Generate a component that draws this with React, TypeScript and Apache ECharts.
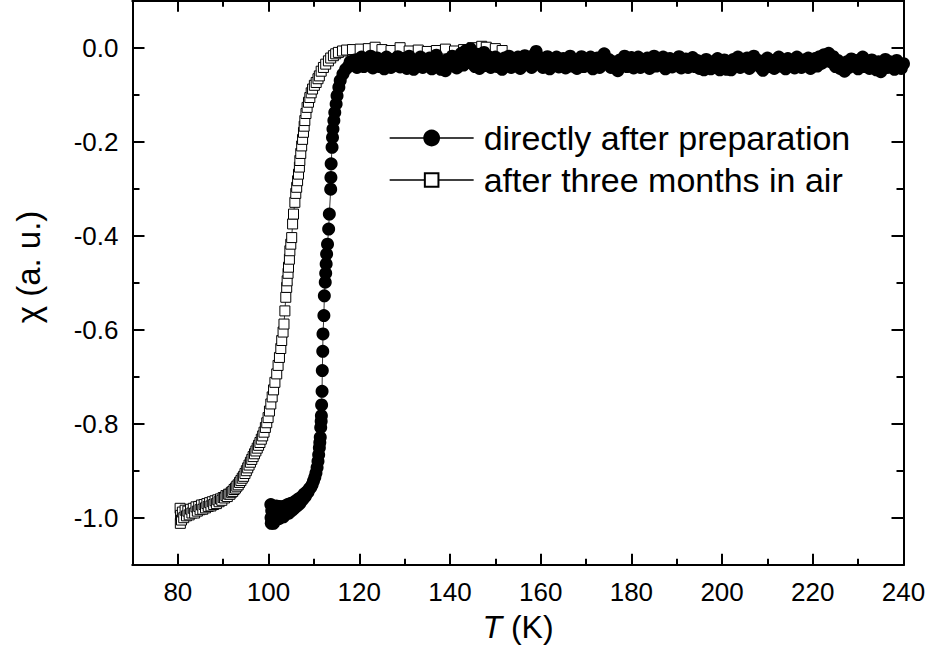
import React, { useEffect, useRef } from 'react';
import * as echarts from 'echarts';

const FONT = "'Liberation Sans', Arial, Helvetica, sans-serif";

// Tick values
const xTickLabels = [80, 100, 120, 140, 160, 180, 200, 220, 240];
const xMinorTicks = [70, 90, 110, 130, 150, 170, 190, 210, 230];
const yTickLabels = [-1.0, -0.8, -0.6, -0.4, -0.2, 0.0];
const yMinorTicks = [-0.9, -0.7, -0.5, -0.3, -0.1];

const seriesNames = ['directly after preparation', 'after three months in air'];

// [T (K), chi (a.u.)] — directly after preparation (filled circles)
const freshData: [number, number][] = [
  [100.5, -0.972], [100.55, -1.0], [100.6, -1.012], [100.7, -0.985], [100.8, -1.008], [100.9, -0.975],
  [101.0, -0.995], [101.1, -1.012], [101.3, -0.98], [101.5, -1.003], [101.7, -0.975], [101.9, -0.998],
  [102.1, -0.982], [102.3, -1.002], [102.5, -0.976], [102.8, -0.995], [103.0, -0.98], [103.3, -0.998],
  [103.6, -0.975], [103.9, -0.992], [104.2, -0.972], [104.5, -0.99], [104.8, -0.97], [105.1, -0.985],
  [105.4, -0.968], [105.7, -0.98], [106.0, -0.964], [106.3, -0.975], [106.6, -0.96], [106.9, -0.97],
  [107.2, -0.956], [107.5, -0.962], [107.8, -0.95], [108.1, -0.955], [108.4, -0.945], [108.7, -0.946],
  [109.0, -0.938], [109.3, -0.936], [109.6, -0.93], [109.9, -0.922], [110.2, -0.914], [110.45, -0.905],
  [110.7, -0.893], [110.9, -0.88], [111.05, -0.866], [111.2, -0.851], [111.3, -0.84], [111.4, -0.829],
  [111.5, -0.808], [111.6, -0.795], [111.65, -0.783], [111.7, -0.76], [111.8, -0.731], [111.85, -0.687],
  [111.95, -0.646], [112.0, -0.609], [112.2, -0.57], [112.3, -0.528], [112.5, -0.499], [112.6, -0.48],
  [112.7, -0.46], [112.8, -0.439], [113.0, -0.418], [113.25, -0.386], [113.4, -0.354], [113.7, -0.301],
  [113.75, -0.276], [113.8, -0.247], [114.0, -0.212], [114.1, -0.191], [114.2, -0.173], [114.4, -0.155],
  [114.6, -0.138], [114.9, -0.12], [115.1, -0.102], [115.5, -0.084], [115.8, -0.07], [116.4, -0.056],
  [117.0, -0.046], [117.6, -0.04], [118.0, -0.03],
  [118.5, -0.036], [119, -0.026], [119.5, -0.042], [120, -0.032], [120.5, -0.02], [121, -0.04], [121.5, -0.027],
  [122, -0.034], [122.5, -0.018], [123, -0.043], [123.5, -0.03], [124, -0.022], [124.5, -0.04], [125, -0.028],
  [125.5, -0.045], [126, -0.02], [126.5, -0.033], [127, -0.042], [127.5, -0.025], [128, -0.037], [128.5, -0.019],
  [129, -0.041], [129.5, -0.03], [130, -0.023], [130.5, -0.044], [131, -0.018], [131.5, -0.034], [132, -0.046],
  [132.5, -0.027], [133, -0.038], [133.5, -0.02], [134, -0.042], [134.5, -0.03], [135, -0.038], [135.5, -0.022],
  [136, -0.045], [136.5, -0.029], [137, -0.016], [137.5, -0.039], [138, -0.046], [138.5, -0.03], [139, -0.049],
  [139.5, -0.025], [140, -0.038], [140.5, -0.018], [141, -0.032], [141.5, -0.043], [142, -0.024], [142.5, -0.012],
  [143, -0.037], [143.5, -0.006], [144, -0.028], [144.5, -0.002], [145, -0.022], [145.5, -0.04], [146, -0.014],
  [146.5, -0.044], [147, -0.025], [147.5, -0.01], [148, -0.038], [148.5, -0.019], [149, -0.042], [149.5, -0.028],
  [150, -0.02], [150.5, -0.04], [151, -0.03], [151.5, -0.046], [152, -0.022], [152.5, -0.034], [153, -0.018],
  [153.5, -0.042], [154, -0.028], [154.5, -0.038], [155, -0.02], [155.5, -0.044], [156, -0.03], [156.5, -0.017],
  [157, -0.036], [157.5, -0.026], [158, -0.042], [158.5, -0.016], [159, -0.008], [159.5, -0.03], [160, -0.022],
  [160.5, -0.042], [161, -0.033], [161.5, -0.019], [162, -0.045], [162.5, -0.028], [163, -0.038], [163.5, -0.02],
  [164, -0.041], [164.5, -0.03], [165, -0.023], [165.5, -0.043], [166, -0.03], [166.5, -0.018], [167, -0.039],
  [167.5, -0.026], [168, -0.044], [168.5, -0.031], [169, -0.019], [169.5, -0.04], [170, -0.027], [170.5, -0.035],
  [171, -0.02], [171.5, -0.045], [172, -0.03], [172.5, -0.022], [173, -0.042], [173.5, -0.029], [174, -0.013],
  [174.5, -0.034], [175, -0.025], [175.5, -0.042], [176, -0.03], [176.5, -0.04], [177, -0.049], [177.5, -0.026],
  [178, -0.037], [178.5, -0.018], [179, -0.04], [179.5, -0.029], [180, -0.021], [180.5, -0.043], [181, -0.031],
  [181.5, -0.02], [182, -0.042], [182.5, -0.027], [183, -0.038], [183.5, -0.022], [184, -0.044], [184.5, -0.03],
  [185, -0.018], [185.5, -0.039], [186, -0.026], [186.5, -0.036], [187, -0.02], [187.5, -0.045], [188, -0.03],
  [188.5, -0.023], [189, -0.041], [189.5, -0.029], [190, -0.036], [190.5, -0.019], [191, -0.043], [191.5, -0.03],
  [192, -0.024], [192.5, -0.042], [193, -0.032], [193.5, -0.021], [194, -0.04], [194.5, -0.027], [195, -0.044],
  [195.5, -0.031], [196, -0.047], [196.5, -0.025], [197, -0.037], [197.5, -0.045], [198, -0.03], [198.5, -0.042],
  [199, -0.023], [199.5, -0.047], [200, -0.034], [200.5, -0.026], [201, -0.046], [201.5, -0.032], [202, -0.047],
  [202.5, -0.025], [203, -0.038], [203.5, -0.02], [204, -0.042], [204.5, -0.03], [205, -0.037], [205.5, -0.022],
  [206, -0.044], [206.5, -0.031], [207, -0.018], [207.5, -0.036], [208, -0.027], [208.5, -0.042], [209, -0.048],
  [209.5, -0.03], [210, -0.022], [210.5, -0.04], [211, -0.027], [211.5, -0.044], [212, -0.033], [212.5, -0.02],
  [213, -0.039], [213.5, -0.028], [214, -0.045], [214.5, -0.023], [215, -0.037], [215.5, -0.03], [216, -0.043],
  [216.5, -0.02], [217, -0.035], [217.5, -0.042], [218, -0.026], [218.5, -0.037], [219, -0.022], [219.5, -0.044],
  [220, -0.03], [220.5, -0.023], [221, -0.039], [221.5, -0.019], [222, -0.033], [222.5, -0.015], [223, -0.028],
  [223.5, -0.012], [224, -0.03], [224.5, -0.019], [225, -0.04], [225.5, -0.027], [226, -0.044], [226.5, -0.033],
  [227, -0.05], [227.5, -0.03], [228, -0.042], [228.5, -0.024], [229, -0.037], [229.5, -0.027], [230, -0.045],
  [230.5, -0.03], [231, -0.02], [231.5, -0.04], [232, -0.031], [232.5, -0.044], [233, -0.026], [233.5, -0.037],
  [234, -0.047], [234.5, -0.03], [235, -0.051], [235.5, -0.034], [236, -0.025], [236.5, -0.042], [237, -0.03],
  [237.5, -0.04], [238, -0.046], [238.5, -0.027], [239, -0.037], [239.5, -0.044], [240, -0.034],
];

// [T (K), chi (a.u.)] — after three months in air (open squares)
const agedData: [number, number][] = [
  [80.5, -0.98], [80.55, -1.012], [80.6, -0.995], [80.8, -1.005], [81.0, -0.988], [81.3, -1.0], [81.6, -0.984],
  [81.9, -0.996], [82.2, -0.986], [82.5, -0.994], [82.8, -0.982], [83.1, -0.99], [83.4, -0.98], [83.7, -0.99],
  [84.0, -0.977], [84.3, -0.986], [84.6, -0.976], [84.9, -0.983], [85.2, -0.973], [85.5, -0.982], [85.8, -0.972],
  [86.1, -0.979], [86.4, -0.97], [86.7, -0.976], [87.0, -0.968], [87.3, -0.975], [87.6, -0.966], [87.9, -0.972],
  [88.2, -0.964], [88.5, -0.97], [88.8, -0.962], [89.1, -0.966], [89.4, -0.96], [89.7, -0.963], [90.0, -0.957],
  [90.3, -0.958], [90.6, -0.953], [90.9, -0.955], [91.2, -0.95], [91.5, -0.95], [91.8, -0.946], [92.1, -0.944],
  [92.4, -0.94], [92.7, -0.937], [93.0, -0.933], [93.3, -0.93], [93.6, -0.925], [93.9, -0.921], [94.2, -0.916],
  [94.5, -0.912], [94.8, -0.906], [95.1, -0.9], [95.4, -0.894], [95.7, -0.888], [96.0, -0.882], [96.3, -0.876],
  [96.6, -0.87], [96.9, -0.864], [97.2, -0.858], [97.5, -0.852], [97.8, -0.846], [98.1, -0.84], [98.4, -0.833],
  [98.7, -0.826], [99.0, -0.818], [99.3, -0.808], [99.6, -0.798], [99.9, -0.787], [100.2, -0.773], [100.5, -0.758],
  [100.8, -0.743], [101.1, -0.728], [101.4, -0.712], [101.8, -0.694], [102.1, -0.676], [102.4, -0.659],
  [102.7, -0.64], [102.9, -0.623], [103.2, -0.605], [103.4, -0.588], [103.6, -0.56], [103.8, -0.531],
  [104.0, -0.51], [104.1, -0.496], [104.3, -0.48], [104.4, -0.467], [104.6, -0.45], [104.7, -0.432],
  [104.9, -0.418], [105.1, -0.404], [105.3, -0.375], [105.5, -0.354], [105.8, -0.329], [106.0, -0.31],
  [106.2, -0.297], [106.4, -0.283], [106.6, -0.269], [106.8, -0.254], [106.9, -0.24], [107.1, -0.225],
  [107.3, -0.209], [107.5, -0.195], [107.7, -0.18], [107.85, -0.167], [108.0, -0.155], [108.25, -0.14],
  [108.5, -0.127], [108.8, -0.116], [109.1, -0.106], [109.4, -0.096], [109.7, -0.088], [110.1, -0.08],
  [110.5, -0.074], [110.9, -0.066], [111.2, -0.06], [111.6, -0.05], [112.1, -0.042], [112.6, -0.035],
  [113.2, -0.028], [113.7, -0.022], [114.3, -0.017], [114.8, -0.013], [115.4, -0.01], [116.3, -0.007],
  [117.2, -0.005], [118.5, -0.004], [120.2, -0.003], [122, -0.002], [123.5, 0.001], [125, -0.004], [127, -0.006],
  [129, 0.0], [131, -0.007], [133, -0.005], [135, -0.008], [137, -0.006], [139, -0.003], [141, -0.007],
  [143, -0.004], [145, 0.0], [147, 0.003], [148, 0.001], [150, -0.002], [151.5, -0.006],
];

const AXIS_COLOR = '#000';

function makeXAxis(position: 'top' | 'bottom', major: boolean, labels: boolean) {
  return {
    type: 'value',
    min: 70,
    max: 240,
    position,
    gridIndex: 0,
    axisLine: { show: true, onZero: false, lineStyle: { color: AXIS_COLOR, width: 2 } },
    axisTick: {
      show: true,
      inside: true,
      length: major ? 11 : 6,
      customValues: major ? xTickLabels : xMinorTicks,
      lineStyle: { color: AXIS_COLOR, width: 2 },
    },
    axisLabel: labels
      ? { show: true, customValues: xTickLabels, margin: 14, fontSize: 26, color: '#000', fontFamily: FONT }
      : { show: false },
    splitLine: { show: false },
  };
}

function makeYAxis(position: 'left' | 'right', major: boolean, labels: boolean) {
  return {
    type: 'value',
    min: -1.1,
    max: 0.1,
    position,
    gridIndex: 0,
    axisLine: { show: true, onZero: false, lineStyle: { color: AXIS_COLOR, width: 2 } },
    axisTick: {
      show: true,
      inside: true,
      length: major ? 12 : 7,
      customValues: major ? yTickLabels : yMinorTicks,
      lineStyle: { color: AXIS_COLOR, width: 2 },
    },
    axisLabel: labels
      ? {
          show: true,
          customValues: yTickLabels,
          margin: 14,
          fontSize: 26,
          color: '#000',
          fontFamily: FONT,
          formatter: (v: number) => v.toFixed(1),
        }
      : { show: false },
    splitLine: { show: false },
  };
}

export default function App() {
  const ref = useRef<HTMLDivElement>(null);

  useEffect(() => {
    if (!ref.current) return;
    const chart = echarts.init(ref.current, null, { renderer: 'svg' });
    const legendText = { fontSize: 34, fontFamily: FONT, color: '#000', padding: [0, 0, 0, 5] };
    chart.setOption({
      animation: false,
      backgroundColor: '#fff',
      grid: { left: 132.5, right: 26.5, top: 0.7, bottom: 83.3, containLabel: false },
      xAxis: [
        makeXAxis('bottom', true, true),
        makeXAxis('bottom', false, false),
        makeXAxis('top', true, false),
        makeXAxis('top', false, false),
      ],
      yAxis: [
        makeYAxis('left', true, true),
        makeYAxis('left', false, false),
        makeYAxis('right', true, false),
        makeYAxis('right', false, false),
      ],
      legend: [
        {
          data: [seriesNames[0]],
          left: 389,
          top: 121,
          padding: 0,
          itemWidth: 84,
          itemHeight: 21,
          selectedMode: false,
          lineStyle: { width: 1.3 },
          textStyle: legendText,
        },
        {
          data: [seriesNames[1]],
          left: 389,
          top: 163,
          padding: 0,
          itemWidth: 84,
          itemHeight: 17,
          selectedMode: false,
          lineStyle: { width: 1.3 },
          textStyle: legendText,
        },
      ],
      graphic: [
        {
          type: 'text',
          x: 28,
          y: 267,
          rotation: Math.PI / 2,
          style: {
            text: 'χ (a. u.)',
            fontSize: 33,
            fontFamily: FONT,
            fill: '#000',
            align: 'center',
            verticalAlign: 'middle',
          },
        },
        {
          type: 'text',
          x: 518,
          y: 627,
          style: {
            text: '{i|T} (K)',
            fontSize: 32,
            fontFamily: FONT,
            fill: '#000',
            align: 'center',
            verticalAlign: 'middle',
            rich: {
              i: { fontStyle: 'italic', fontSize: 32, fontFamily: FONT, fill: '#000' },
            },
          },
        },
      ],
      series: [
        {
          name: seriesNames[1],
          type: 'line',
          xAxisIndex: 0,
          yAxisIndex: 0,
          data: agedData,
          symbol: 'rect',
          symbolSize: 10,
          showSymbol: true,
          showAllSymbol: true,
          itemStyle: { color: '#fff', borderColor: '#000', borderWidth: 1 },
          lineStyle: { color: '#000', width: 0.8 },
          z: 2,
        },
        {
          name: seriesNames[0],
          type: 'line',
          xAxisIndex: 0,
          yAxisIndex: 0,
          data: freshData,
          symbol: 'circle',
          symbolSize: 13,
          showSymbol: true,
          showAllSymbol: true,
          itemStyle: { color: '#000' },
          lineStyle: { color: '#000', width: 0.8 },
          z: 3,
        },
      ],
    });
    return () => chart.dispose();
  }, []);

  return (
    <div
      ref={ref}
      style={{ position: 'fixed', left: 0, top: 0, width: 930, height: 648, background: '#fff' }}
    />
  );
}
